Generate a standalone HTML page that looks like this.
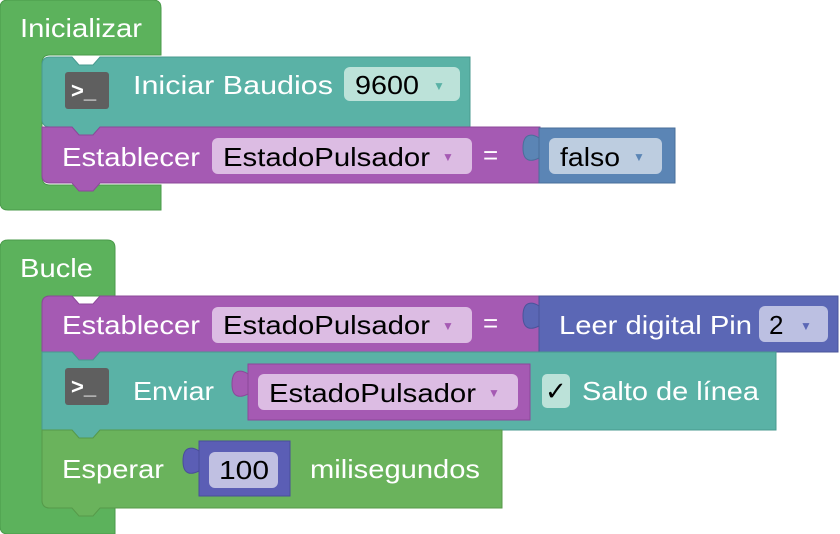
<!DOCTYPE html>
<html><head><meta charset="utf-8"><style>
html,body{margin:0;padding:0;background:#fff;width:840px;height:534px;overflow:hidden}
svg{display:block}
text{font-family:"Liberation Sans",Arial,sans-serif;font-size:26px}
.w{fill:#fff}.k{fill:#000}
</style></head><body>
<svg width="840" height="534" viewBox="0 0 840 534" xmlns="http://www.w3.org/2000/svg">
<!-- Inicializar container -->
<path d="M8,0 H153 Q161,0 161,8 V55 H50 Q42,55 42,63 V177 Q42,185 50,185 H161 V210 H8 Q0,210 0,202 V8 Q0,0 8,0 Z" fill="#5cb25c" stroke="#4a9a4a" stroke-width="1"/>
<text class="w" x="20" y="37" textLength="122" lengthAdjust="spacingAndGlyphs">Inicializar</text>
<!-- teal Iniciar -->
<path d="M50,57 H72 l7,8 h14 l7,-8 H470 V127 H100 l-7,8 h-14 l-7,-8 H50 Q42,127 42,119 V65 Q42,57 50,57 Z" fill="#5ab2a6" stroke="#489a8f" stroke-width="1"/>
<rect x="65" y="72" width="44" height="37" rx="3" fill="#5f5f5f"/>
<text class="w" x="71" y="98" style="font-size:22px;font-weight:bold">&gt;_</text>
<text class="w" x="133" y="94" textLength="200" lengthAdjust="spacingAndGlyphs">Iniciar  Baudios</text>
<rect x="344" y="67" width="116" height="34" rx="6" fill="#bce2d9"/>
<text class="k" x="355" y="94" textLength="64" lengthAdjust="spacingAndGlyphs">9600</text>
<text x="433" y="90" style="font-size:12px;fill:#5ab2a6">▼</text>
<!-- purple Establecer 1 -->
<path d="M42,127 H72 l7,8 h14 l7,-8 H540 V183 H100 l-7,8 h-14 l-7,-8 H50 Q42,183 42,175 Z" fill="#a55ab3" stroke="#8c4899" stroke-width="1"/>
<text class="w" x="62" y="166" textLength="138" lengthAdjust="spacingAndGlyphs">Establecer</text>
<rect x="212" y="138" width="260" height="36" rx="6" fill="#dcbce3"/>
<text class="k" x="223" y="166" textLength="207" lengthAdjust="spacingAndGlyphs">EstadoPulsador</text>
<text x="442" y="161" style="font-size:12px;fill:#a55ab3">▼</text>
<text class="w" x="483" y="164">=</text>
<!-- falso -->
<rect x="539" y="128" width="136" height="55" fill="#5b85b5" stroke="#4a6f9a" stroke-width="1"/>
<path d="M539,138 c-6,-4 -16,-6 -16,10 c0,14 8,14 16,10 Z" fill="#5b85b5" stroke="#4a6f9a" stroke-width="1"/>
<rect x="549" y="138" width="113" height="36" rx="6" fill="#bdcde0"/>
<text class="k" x="560" y="166" textLength="60" lengthAdjust="spacingAndGlyphs">falso</text>
<text x="633" y="161" style="font-size:12px;fill:#5b85b5">▼</text>

<!-- Bucle container -->
<path d="M8,240 H107 Q115,240 115,248 V296 H50 Q42,296 42,304 V500 Q42,508 50,508 H115 V534 H8 Q0,534 0,526 V248 Q0,240 8,240 Z" fill="#5cb25c" stroke="#4a9a4a" stroke-width="1"/>
<text class="w" x="20" y="277" textLength="73" lengthAdjust="spacingAndGlyphs">Bucle</text>
<!-- purple Establecer 2 -->
<path d="M50,296 H72 l7,8 h14 l7,-8 H540 V352 H100 l-7,8 h-14 l-7,-8 H42 V304 Q42,296 50,296 Z" fill="#a55ab3" stroke="#8c4899" stroke-width="1"/>
<text class="w" x="62" y="334" textLength="138" lengthAdjust="spacingAndGlyphs">Establecer</text>
<rect x="212" y="307" width="260" height="36" rx="6" fill="#dcbce3"/>
<text class="k" x="223" y="334" textLength="207" lengthAdjust="spacingAndGlyphs">EstadoPulsador</text>
<text x="442" y="330" style="font-size:12px;fill:#a55ab3">▼</text>
<text class="w" x="483" y="332">=</text>
<!-- Leer digital -->
<rect x="539" y="296" width="299" height="56" fill="#5b67b5" stroke="#4a549a" stroke-width="1"/>
<path d="M539,306 c-6,-4 -16,-6 -16,10 c0,14 8,14 16,10 Z" fill="#5b67b5" stroke="#4a549a" stroke-width="1"/>
<text class="w" x="559" y="334" textLength="193" lengthAdjust="spacingAndGlyphs">Leer digital Pin</text>
<rect x="759" y="306" width="69" height="36" rx="6" fill="#bcc0e2"/>
<text class="k" x="769" y="334">2</text>
<text x="800" y="330" style="font-size:12px;fill:#5b67b5">▼</text>
<!-- teal Enviar -->
<path d="M42,352 H72 l7,8 h14 l7,-8 H776 V430 H100 l-7,8 h-14 l-7,-8 H42 Z" fill="#5ab2a6" stroke="#489a8f" stroke-width="1"/>
<rect x="65" y="368" width="44" height="37" rx="3" fill="#5f5f5f"/>
<text class="w" x="71" y="394" style="font-size:22px;font-weight:bold">&gt;_</text>
<text class="w" x="133" y="400" textLength="81" lengthAdjust="spacingAndGlyphs">Enviar</text>
<rect x="248" y="364" width="282" height="56" fill="#a55ab3" stroke="#8c4899" stroke-width="1"/>
<path d="M248,374 c-6,-4 -16,-6 -16,10 c0,14 8,14 16,10 Z" fill="#a55ab3" stroke="#8c4899" stroke-width="1"/>
<rect x="258" y="374" width="260" height="36" rx="6" fill="#dcbce3"/>
<text class="k" x="269" y="402" textLength="207" lengthAdjust="spacingAndGlyphs">EstadoPulsador</text>
<text x="488" y="397" style="font-size:12px;fill:#a55ab3">▼</text>
<rect x="542" y="374" width="28" height="34" rx="5" fill="#bce2d9"/>
<text class="k" x="545" y="400">✓</text>
<text class="w" x="582" y="400" textLength="177" lengthAdjust="spacingAndGlyphs">Salto de línea</text>
<!-- green Esperar -->
<path d="M42,430 H72 l7,8 h14 l7,-8 H502 V508 H100 l-7,8 h-14 l-7,-8 H50 Q42,508 42,500 Z" fill="#6ab35c" stroke="#579a4a" stroke-width="1"/>
<text class="w" x="62" y="478" textLength="102" lengthAdjust="spacingAndGlyphs">Esperar</text>
<rect x="199" y="441" width="91" height="55" fill="#5b5eb5" stroke="#4a4d9a" stroke-width="1"/>
<path d="M199,451 c-6,-4 -16,-6 -16,10 c0,14 8,14 16,10 Z" fill="#5b5eb5" stroke="#4a4d9a" stroke-width="1"/>
<rect x="209" y="452" width="69" height="36" rx="6" fill="#c0c0e2"/>
<text class="k" x="219" y="479" textLength="50" lengthAdjust="spacingAndGlyphs">100</text>
<text class="w" x="310" y="478" textLength="170" lengthAdjust="spacingAndGlyphs">milisegundos</text>
</svg>
</body></html>
